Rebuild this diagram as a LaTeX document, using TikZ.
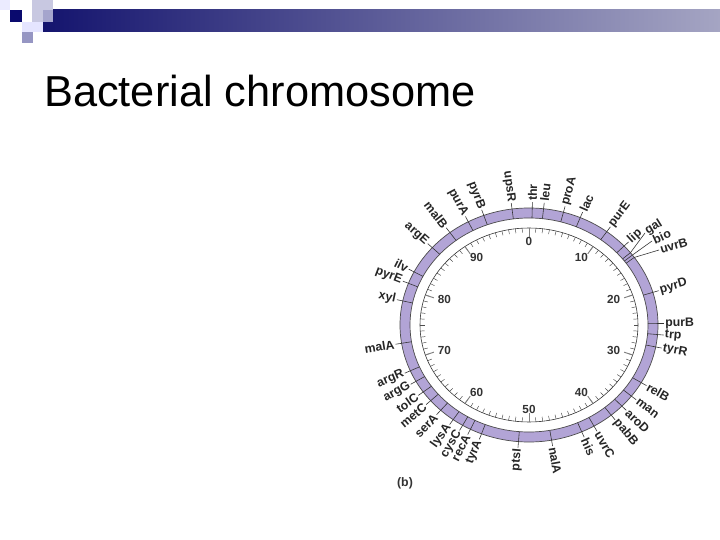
\documentclass[tikz,border=0pt]{standalone}
\usepackage{fontspec}
\setmainfont{Liberation Sans}
\definecolor{hdA}{RGB}{20,20,110}
\definecolor{hdB}{RGB}{165,165,195}
\definecolor{sqA}{RGB}{200,200,225}
\definecolor{sqB}{RGB}{165,165,205}
\definecolor{sqC}{RGB}{10,10,110}
\definecolor{sqD}{RGB}{150,150,195}
\definecolor{band}{RGB}{178,164,214}
\begin{document}
\begin{tikzpicture}[x=0.03cm,y=-0.03cm,
  tk/.style={draw=black!80,line width=0.5pt},
  gl/.style={font=\fontsize{10.5}{11}\selectfont\bfseries,inner sep=1pt,text=black!85},
  nl/.style={font=\fontsize{10}{11}\selectfont\bfseries,text=black!80}]
\newcommand\gp[3]{({529+#2*cos(90-3.6*#1)},{325-#3*sin(90-3.6*#1)})}
\useasboundingbox (0,0) rectangle (720,540);
\fill[white] (0,0) rectangle (720,540);
% header
\shade[left color=hdA,right color=hdB] (43,10) rectangle (720,32);
\fill[blue!8!white] (0,0) rectangle (10,10);
\fill[blue!10!white] (22,22) rectangle (43,32);
\fill[sqA] (32,0) rectangle (53,22);
\fill[sqB] (43,10) rectangle (53,22);
\fill[sqC] (10,10) rectangle (22,22);
\fill[sqD] (22,32) rectangle (33,43);
\node[anchor=base west,inner sep=0,font=\fontsize{37}{42}\selectfont] (title) at (44,107) {Bacterial chromosome};
% band
\fill[band,even odd rule,draw=black!70,line width=0.6pt]
  (529,325) ellipse [x radius=129,y radius=117] (529,325) ellipse [x radius=119,y radius=107];
% inner circle and ticks
\draw[black!80,line width=0.5pt] (529,325) ellipse [x radius=109,y radius=97];
\foreach \m in {0,...,99}{\draw[black!70,line width=0.4pt] \gp{\m}{109}{97} -- \gp{\m}{104.5}{92.5};}
\foreach \m in {0,10,...,90}{\draw[black!50,line width=0.8pt] \gp{\m}{109}{97} -- \gp{\m}{100}{88};
  \node[nl] (n\m) at \gp{\m}{89}{84} {\m};}
% genes
\foreach \m/\g in {0.4/thr,1.8/leu,4.3/proA,6.5/lac,10.3/purE,13.2/lip,20.5/pyrD,24.8/purB,26.3/trp,28/tyrR,
  33.2/relB,35.4/man,37.2/aroD,39/pabB,41.6/uvrC,43.3/his,47.2/nalA,51.3/ptsI,56/tyrA,57.5/recA,58.6/cysC,
  60/lysA,62/serA,63.8/metC,65.3/tolC,67/argG,68.6/argR,72.5/malA,78.3/xyl,80.8/pyrE,82.5/ilv,86.5/argE,
  89.5/malB,92.2/purA,94.3/pyrB,97.9/upsR}{
  \pgfmathsetmacro\th{90-3.6*\m}
  \draw[tk] \gp{\m}{119}{107} -- \gp{\m}{135}{123};
  \pgfmathparse{\m<50?1:0}
  \ifnum\pgfmathresult=1
    \node[gl,anchor=west,rotate=\th] (g\g) at \gp{\m}{135}{123} {\g};
  \else
    \node[gl,anchor=east,rotate=\th+180] (g\g) at \gp{\m}{135}{123} {\g};
  \fi}
\foreach \m/\g/\x/\y/\r in {14.4/gal/645/233/32,14.8/bio/652/241/24,15.2/uvrB/659/250/16}{
  \draw[tk] \gp{\m}{119}{107} -- \gp{\m}{129}{117} -- (\x,\y);
  \node[gl,anchor=west,rotate=\r] (g\g) at (\x,\y) {\g};}
\node[font=\fontsize{10.5}{11}\selectfont\bfseries,text=black!80] (b) at (405,483) {(b)};
\end{tikzpicture}
\end{document}
